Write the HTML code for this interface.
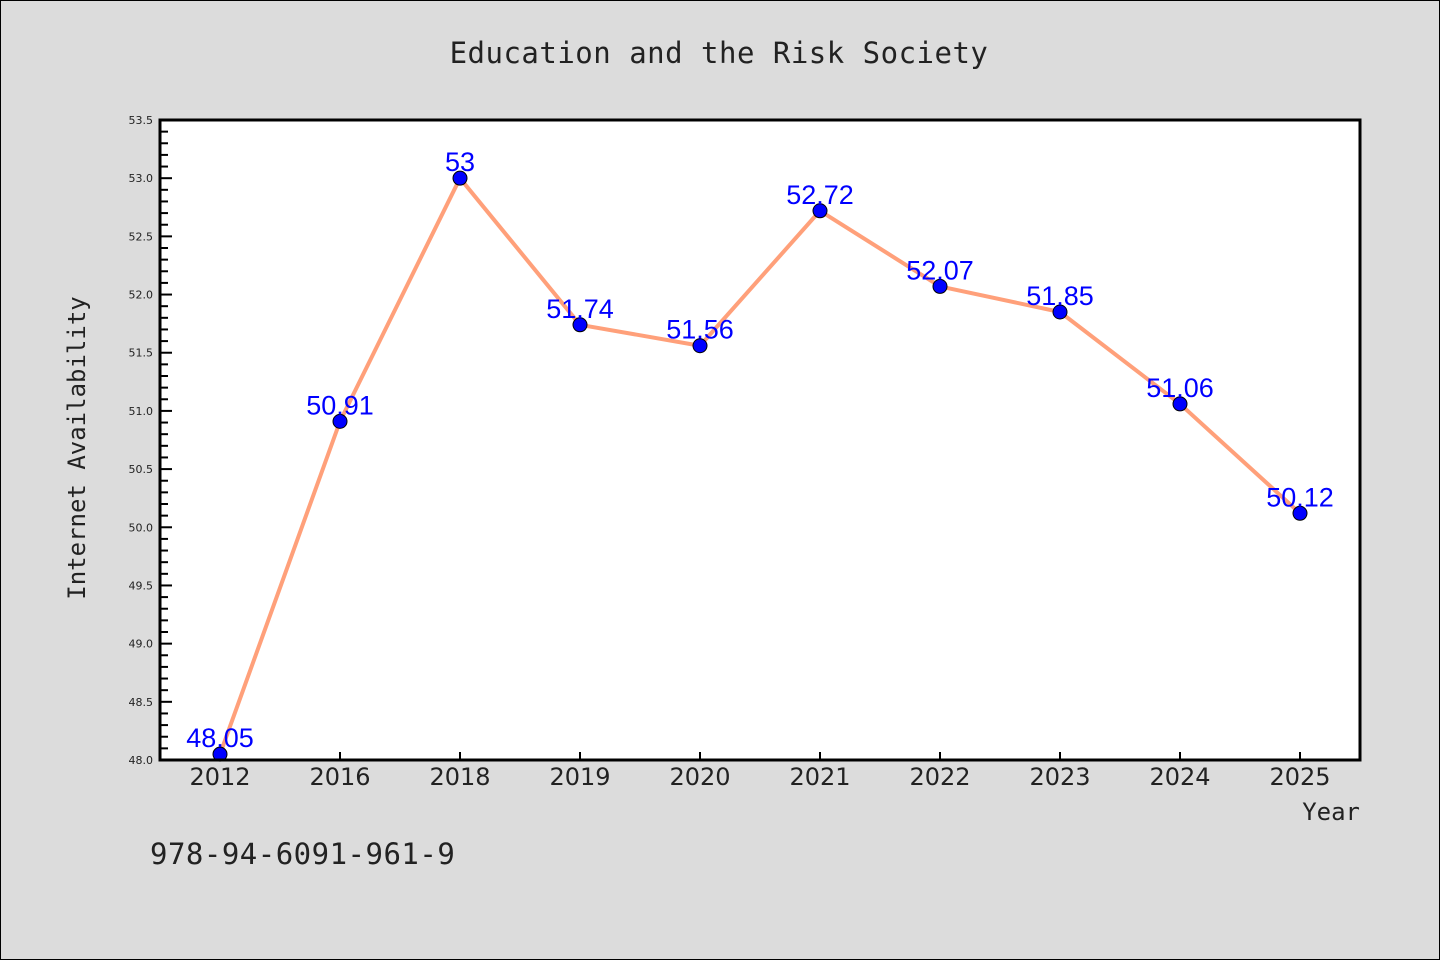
<!DOCTYPE html>
<html><head><meta charset="utf-8"><style>
html,body{margin:0;padding:0;background:#dcdcdc;}
svg{display:block;}
</style></head><body>
<svg width="1440" height="960" xmlns="http://www.w3.org/2000/svg">
<rect x="0.5" y="0.5" width="1439" height="959" fill="#dcdcdc" stroke="#000" stroke-width="1"/>
<text x="719" y="63" text-anchor="middle" font-family="DejaVu Sans Mono, monospace" font-size="29" letter-spacing="0.5" fill="#222">Education and the Risk Society</text>
<rect x="160" y="120" width="1200" height="640" fill="#fff"/>
<g id="ticks"></g>
<g id="series"></g>
<rect x="160" y="120" width="1200" height="640" fill="none" stroke="#000" stroke-width="3"/>
<text transform="translate(85,448) rotate(-90)" text-anchor="middle" font-family="DejaVu Sans Mono, monospace" font-size="24" fill="#222">Internet Availability</text>
<text x="1360" y="820" text-anchor="end" font-family="DejaVu Sans Mono, monospace" font-size="24" fill="#222">Year</text>
<text x="150" y="864" font-family="DejaVu Sans Mono, monospace" font-size="29" letter-spacing="0.5" fill="#222">978-94-6091-961-9</text>
</svg>
<script>
const categories = ["2012","2016","2018","2019","2020","2021","2022","2023","2024","2025"];
const values = [48.05,50.91,53,51.74,51.56,52.72,52.07,51.85,51.06,50.12];
const valueLabels = ["48.05","50.91","53","51.74","51.56","52.72","52.07","51.85","51.06","50.12"];
const yTicks = ["48.0","48.5","49.0","49.5","50.0","50.5","51.0","51.5","52.0","52.5","53.0","53.5"];
const NS="http://www.w3.org/2000/svg";
const yMin=48, yMax=53.5, plotTop=120, plotBot=760, plotLeft=160, plotRight=1360;
const yScale=v=>plotBot-(v-yMin)/(yMax-yMin)*(plotBot-plotTop);
const xScale=i=>plotLeft+(plotRight-plotLeft)/categories.length*(i+0.5);
function mk(tag,attrs,parent){const e=document.createElementNS(NS,tag);for(const k in attrs)e.setAttribute(k,attrs[k]);parent.appendChild(e);return e;}
const tg=document.getElementById('ticks'), sg=document.getElementById('series');
yTicks.forEach((t,i)=>{
  const v=parseFloat(t), yy=yScale(v);
  const l=mk('line',{x1:plotLeft,x2:plotLeft+12,y1:yy,y2:yy,stroke:'#000','stroke-width':2},tg);
  
  
  const tx=mk('text',{x:plotLeft-7,y:yy+4,'text-anchor':'end','font-family':'DejaVu Sans, sans-serif','font-size':11,fill:'#222'},tg);
  
  
  tx.textContent=t;
  if(i<yTicks.length-1){for(let k=1;k<5;k++){const my=yScale(v+0.1*k);
    const m=mk('line',{x1:plotLeft,x2:plotLeft+8,y1:my,y2:my,stroke:'#000','stroke-width':2},tg);
    
    }}
});
categories.forEach((c,i)=>{
  const xx=xScale(i);
  const l=mk('line',{x1:xx,x2:xx,y1:plotBot,y2:plotBot-8,stroke:'#000','stroke-width':2},tg);
  
  
  const tx=mk('text',{x:xx,y:plotBot+25,'text-anchor':'middle','font-family':'DejaVu Sans, sans-serif','font-size':24,fill:'#222'},tg);
  
  
  tx.textContent=c;
});
const pts=values.map((v,i)=>xScale(i)+','+yScale(v)).join(' ');
const pl=mk('polyline',{points:pts,fill:'none',stroke:'#ffa07a','stroke-width':4,'stroke-linejoin':'round'},sg);


values.forEach((v,i)=>{
  const c=mk('circle',{cx:xScale(i),cy:yScale(v),r:7,fill:'#0000ff',stroke:'#000','stroke-width':1},sg);
  
  
  const t=mk('text',{x:xScale(i),y:yScale(v)-7,'text-anchor':'middle','font-family':'Liberation Sans, sans-serif','font-size':27,fill:'#0000ff'},sg);
  
  
  t.textContent=valueLabels[i];
});
</script>
</body></html>
